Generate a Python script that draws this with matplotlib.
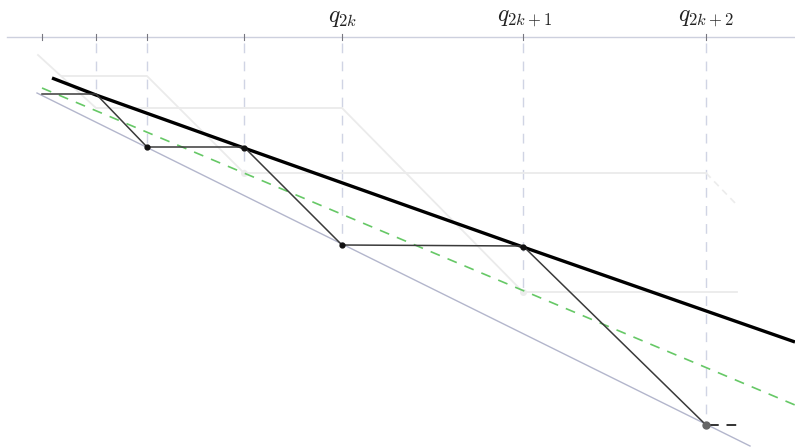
import matplotlib.pyplot as plt

plt.rcParams['mathtext.fontset'] = 'cm'

# positions on the top axis (diagram units = pixels)
tick_x = [42, 96, 147, 244, 342, 523, 706]
label_x = [343, 524, 706]
label_txt = [r'$q_{2k}$', r'$q_{2k+1}$', r'$q_{2k+2}$']
axis_y = 37

# where each dashed guide ends
guide_x = [96, 147, 244, 342, 523, 706]
guide_end = [95, 147, 175, 245, 292, 425]

# thick upper curve
upper_x = [52, 96, 244, 523, 795]
upper_y = [78, 95, 148, 247, 342]

# lower bound line
lower_x = [37, 750]
lower_y = [93, 446]

# green dashed line
green_x = [42, 795]
green_y = [88, 405]

# zigzag between curve and lower line
zig_x = [42, 96, 147, 244, 342, 523, 706]
zig_y = [94, 94, 147, 147, 245, 246, 425]
dot_x = [147, 244, 342, 523]
dot_y = [147, 148, 245, 247]

# faint older staircases
ghost1_x = [38, 96, 342, 523, 737]
ghost1_y = [55, 108, 108, 292, 292]
ghost2_x = [62, 147, 244, 706]
ghost2_y = [76, 76, 173, 173]

fig = plt.figure(figsize=(7.95, 4.48), dpi=100)
ax = fig.add_axes([0, 0, 1, 1])
ax.set_xlim(0, 795)
ax.set_ylim(448, 0)
ax.axis('off')

guide_col = '#d0d4e4'
ax.plot([7, 795], [axis_y, axis_y], color='#cdd0de', lw=1.0)
for x in tick_x:
    ax.plot([x, x], [axis_y - 3, axis_y + 3], color='#777780', lw=0.8)
for x, y1 in zip(guide_x, guide_end):
    ax.plot([x, x], [axis_y + 6, y1], color=guide_col, lw=1.0, ls=(0, (7, 6)))
for x, t in zip(label_x, label_txt):
    ax.text(x, 17, t, ha='center', va='center', fontsize=17, color='#222222')

# ghosts
ax.plot(ghost1_x, ghost1_y, color='#ebebeb', lw=1.3)
ax.plot(ghost2_x, ghost2_y, color='#ebebeb', lw=1.3)
ax.plot([706, 737], [173, 205], color='#ececec', lw=1.2, ls=(0, (4, 3)))
ax.plot([244, 523], [173, 292], 'o', color='#ececec', ms=4)

ax.plot(lower_x, lower_y, color='#b3b6cc', lw=1.0)
ax.plot(green_x, green_y, color='#66c866', lw=1.2, ls=(0, (6, 5)))
ax.plot(upper_x, upper_y, color='black', lw=2.4, solid_capstyle='butt')
ax.plot(zig_x, zig_y, color='#3a3a3a', lw=1.1)
ax.plot([709, 737], [425, 425], color='#333333', lw=1.4, ls=(0, (5, 4)))
ax.plot(dot_x, dot_y, 'o', color='#111111', ms=3.5)
ax.plot([706], [425], 'o', color='#666666', ms=5)

fig.savefig('out.png', dpi=100)
